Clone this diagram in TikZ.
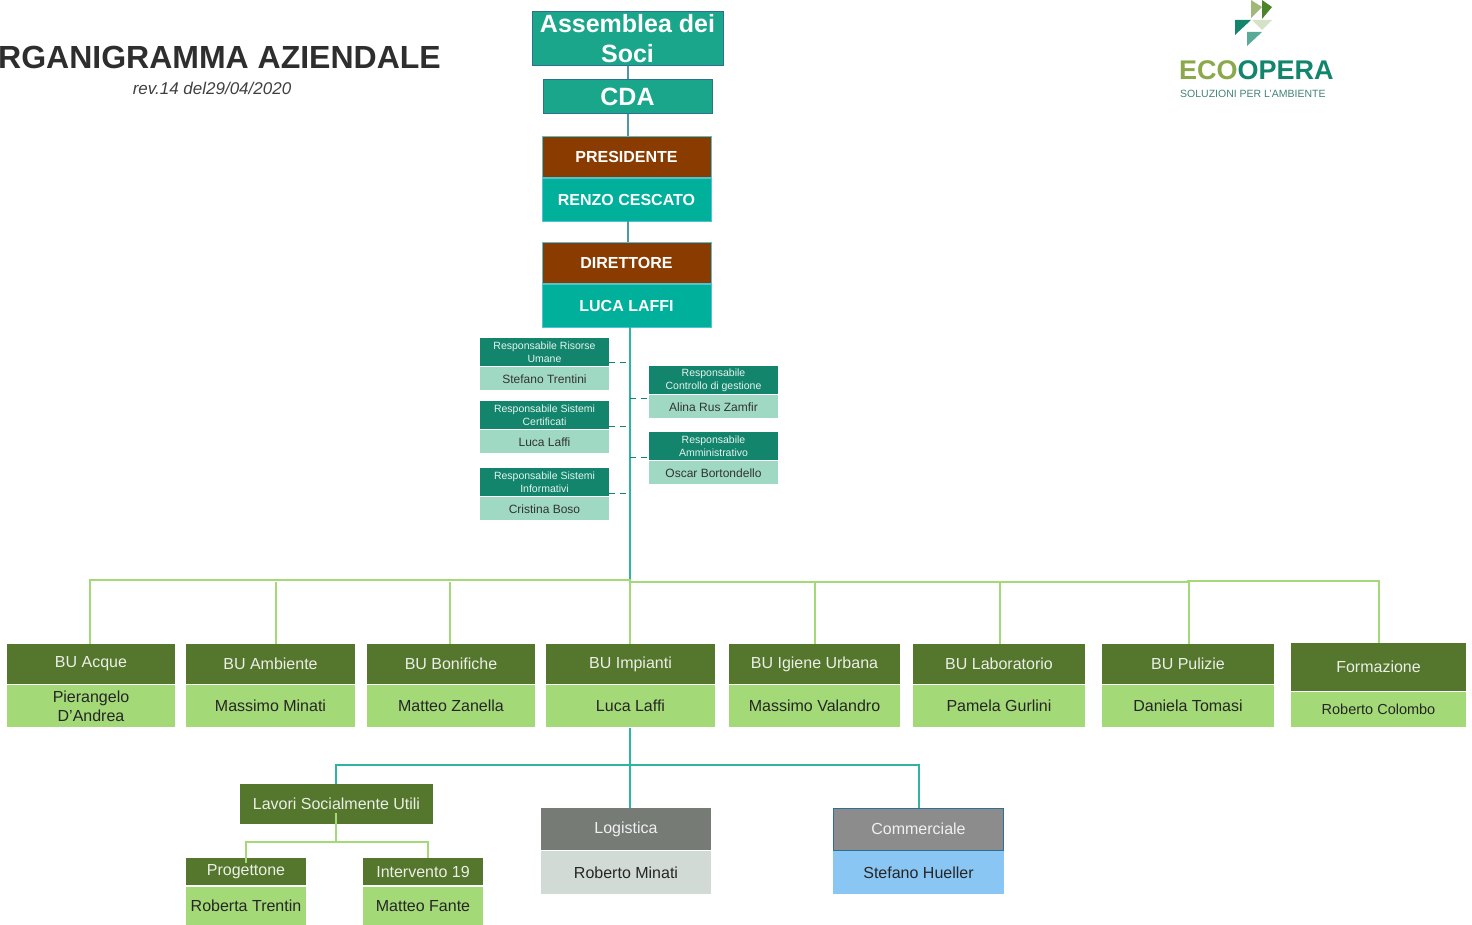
\documentclass[tikz,border=0pt]{standalone}
\usepackage{fontspec}
\setmainfont{Liberation Sans}
\usetikzlibrary{positioning}
\definecolor{boardfill}{HTML}{1AA68A}
\definecolor{boardline}{HTML}{2F6F8F}
\definecolor{brownfill}{HTML}{8A3B00}
\definecolor{cyanfill}{HTML}{00B09B}
\definecolor{cyanline}{HTML}{4FC3CF}
\definecolor{staffhead}{HTML}{12856C}
\definecolor{staffbody}{HTML}{9FD9C3}
\definecolor{unithead}{HTML}{55762D}
\definecolor{unitbody}{HTML}{A3D977}
\definecolor{mainline}{HTML}{2DB59F}
\definecolor{topline}{HTML}{4E9AA3}
\definecolor{greyhead}{HTML}{767B76}
\definecolor{greybody}{HTML}{D2DAD5}
\definecolor{saleshead}{HTML}{8C8C8C}
\definecolor{salesbody}{HTML}{8AC6F4}
\definecolor{logoolive}{HTML}{A0B878}
\definecolor{logopale}{HTML}{D5E2C8}
\definecolor{logogreen}{HTML}{8BA84A}
\newcommand{\fs}[1]{\fontsize{#1pt}{\dimexpr#1pt*6/5\relax}\selectfont}
\tikzset{
    box/.style={rectangle, inner sep=0pt, align=center},
    board/.style={box, fill=boardfill, draw=boardline, line width=1pt, text=white, font=\fs{25}\bfseries, minimum width=169pt},
    rolehead/.style={box, fill=brownfill, draw=cyanline, line width=0.8pt, text=white, font=\fs{16}\bfseries, minimum width=169pt, minimum height=41pt},
    rolename/.style={box, fill=cyanfill, draw=cyanline, line width=0.8pt, text=white, font=\fs{16}\bfseries, minimum width=169pt, minimum height=43pt},
    staffh/.style={box, fill=staffhead, text=white!90!staffhead, font=\fs{10.5}, minimum width=129pt, minimum height=28pt},
    staffb/.style={box, fill=staffbody, text=black!80, font=\fs{12}, minimum width=129pt, minimum height=23pt},
    unith/.style={box, fill=unithead, text=white!88!unithead, font=\fs{16}, minimum height=40pt},
    unitb/.style={box, fill=unitbody, text=black!85, font=\fs{16}, minimum height=42pt},
    toplink/.style={draw=topline, line width=1.2pt},
    mainlink/.style={draw=mainline, line width=1.4pt},
    dashlink/.style={draw=staffhead, line width=1pt, dash pattern=on 6pt off 5pt},
    greenlink/.style={draw=unitbody, line width=1.4pt},
}
\begin{document}
\begin{tikzpicture}[x=1pt, y=-1pt]
    \useasboundingbox (0,0) rectangle (1472,925);
    % title and logo
    \node[font=\fs{32}\bfseries, text=black!82, anchor=east, inner sep=0pt] (title) at (441,57) {ORGANIGRAMMA AZIENDALE};
    \node[font=\fs{17}\itshape, text=black!75, inner sep=0pt] (revision) at (212,88) {rev.14 del29/04/2020};
    \fill[logoolive] (1251,0) -- (1262,7) -- (1251,18) -- cycle;
    \fill[unithead!90!green] (1262,0) -- (1272,7) -- (1262,19) -- cycle;
    \fill[staffhead] (1235,20) -- (1251,20) -- (1235,35) -- cycle;
    \fill[logopale] (1252,20) -- (1272,20) -- (1262,30) -- cycle;
    \fill[staffhead!70!white] (1247,32) -- (1262,32) -- (1247,46) -- cycle;
    \node[font=\fs{27}\bfseries, inner sep=0pt, anchor=west] (logoname) at (1179,70) {\textcolor{logogreen}{ECO}\textcolor{staffhead}{OPERA}};
    \node[font=\fs{10.5}, text=staffhead!55!gray, inner sep=0pt, anchor=west] (logotag) at (1180,94) {SOLUZIONI PER L'AMBIENTE};

    % top of the chart
    \node[board, minimum width=191pt, minimum height=54pt] (assembly) at (627.5,39) {Assemblea dei\\Soci};
    \node[board, minimum height=34pt] (board) at (627.5,97) {CDA};
    \node[rolehead] (president) at (626.5,157) {PRESIDENTE};
    \node[rolename] (presidentname) at (626.5,199.5) {RENZO CESCATO};
    \node[rolehead] (director) at (626.5,262.5) {DIRETTORE};
    \node[rolename] (directorname) at (626.5,305.5) {LUCA LAFFI};
    \coordinate (assemblyfoot) at (628,66);
    \coordinate (boardfoot) at (628,114);
    \coordinate (presidentfoot) at (628,221);
    \draw[toplink] (assemblyfoot) -- (assemblyfoot |- board.north);
    \draw[toplink] (boardfoot) -- (boardfoot |- president.north);
    \draw[toplink] (presidentfoot) -- (presidentfoot |- director.north);

    % staff
    \foreach \name/\cx/\cy/\role/\person in {
        hr/544.5/352/{Responsabile Risorse\\Umane}/Stefano Trentini,
        quality/544.5/415/{Responsabile Sistemi\\Certificati}/Luca Laffi,
        systems/544.5/482/{Responsabile Sistemi\\Informativi}/Cristina Boso,
        control/713.5/380/{Responsabile\\Controllo di gestione}/Alina Rus Zamfir,
        admin/713.5/446/{Responsabile\\Amministrativo}/Oscar Bortondello}{
        \node[staffh] (\name) at (\cx,\cy) {\role};
        \node[staffb, below=1pt of \name] (\name name) {\person};
    }

    % business units
    \foreach \name/\cx/\wid/\unit/\person in {
        water/91/168/BU Acque/{Pierangelo\\D'Andrea},
        env/270.5/169/BU Ambiente/Massimo Minati,
        recl/451/168/BU Bonifiche/Matteo Zanella,
        plants/630.5/169/BU Impianti/Luca Laffi,
        hygiene/814.5/171/BU Igiene Urbana/Massimo Valandro,
        lab/999/172/BU Laboratorio/Pamela Gurlini,
        clean/1188/172/BU Pulizie/Daniela Tomasi}{
        \node[unith, minimum width=\wid pt] (\name) at (\cx,664) {\unit};
        \node[unitb, minimum width=\wid pt] (\name name) at (\cx,706) {\person};
    }
    \node[unith, minimum width=175pt, minimum height=48pt] (training) at (1378.5,667) {Formazione};
    \node[unitb, minimum width=175pt, minimum height=35pt, font=\fs{14.5}] (trainingname) at (1378.5,709.5) {Roberto Colombo};

    % main line
    \coordinate (directorfoot) at (630,327);
    \draw[mainlink] (directorfoot) -- (directorfoot |- plants.north);
    \foreach \name/\cy in {hr/362, quality/426, systems/493}{
        \coordinate (dash\name) at (609,\cy);
        \draw[dashlink] (dash\name) -- (dash\name -| directorfoot);
    }
    \foreach \name/\cy in {control/398, admin/457}{
        \coordinate (dash\name) at (630,\cy);
        \draw[dashlink] (dash\name) -- (dash\name -| \name.west);
    }

    % line to the units
    \coordinate (bustart) at (90,580);
    \coordinate (busmid) at (630,580);
    \coordinate (busmidlow) at (630,582);
    \coordinate (busturn) at (1188,582);
    \coordinate (busturnup) at (1188,581);
    \coordinate (busend) at (1379,581);
    \draw[greenlink] (water.north -| bustart) -- (bustart) -- (busmid) -- (busmidlow) -- (busturn) -- (busturnup) -- (busend) -- (busend |- training.north);
    \foreach \name/\x in {env/276, recl/450, plants/630, hygiene/815, lab/1000, clean/1189}{
        \coordinate (drop\name) at (\x,582);
        \draw[greenlink] (drop\name) -- (drop\name |- \name.north);
    }

    % below BU Impianti
    \node[unith, minimum width=193pt] (social) at (336.5,804) {\raisebox{-8pt}{Lavori Socialmente Utili}};
    \node[unith, minimum width=120pt, minimum height=27pt] (project) at (246,871.5) {Progettone};
    \node[unitb, minimum width=120pt, minimum height=38pt] (projectname) at (246,906) {Roberta Trentin};
    \node[unith, minimum width=120pt, minimum height=27pt] (plan) at (423,871.5) {Intervento 19};
    \node[unitb, minimum width=120pt, minimum height=38pt] (planname) at (423,906) {Matteo Fante};
    \node[box, fill=greyhead, text=white!88!gray, font=\fs{16}, minimum width=170pt, minimum height=42pt] (logistics) at (626,829) {Logistica};
    \node[unitb, fill=greybody, minimum width=170pt, minimum height=43pt] (logisticsname) at (626,872.5) {Roberto Minati};
    \node[box, fill=saleshead, draw=boardline, line width=1pt, text=white!88!gray, font=\fs{16}, minimum width=170pt, minimum height=42pt] (sales) at (918.5,829) {Commerciale};
    \node[unitb, fill=salesbody, minimum width=171pt, minimum height=43pt] (salesname) at (918.5,872.5) {Stefano Hueller};

    \coordinate (plantsfoot) at (630,728);
    \coordinate (lowleft) at (336,765);
    \coordinate (lowright) at (919,765);
    \draw[mainlink, line width=1.2pt] (plantsfoot) -- (plantsfoot |- logistics.north);
    \draw[mainlink, line width=1.2pt] (social.north -| lowleft) -- (lowleft) -- (lowright) -- (lowright |- sales.north);
    \coordinate (socialfoot) at (336,813);
    \coordinate (subbus) at (336,842);
    \coordinate (subleft) at (246,842);
    \coordinate (subright) at (428,842);
    \draw[greenlink] (socialfoot) -- (subbus);
    \draw[greenlink] (subleft |- project.north) ++(0,5) -- (subleft) -- (subright) -- (subright |- plan.north);
\end{tikzpicture}
\end{document}
